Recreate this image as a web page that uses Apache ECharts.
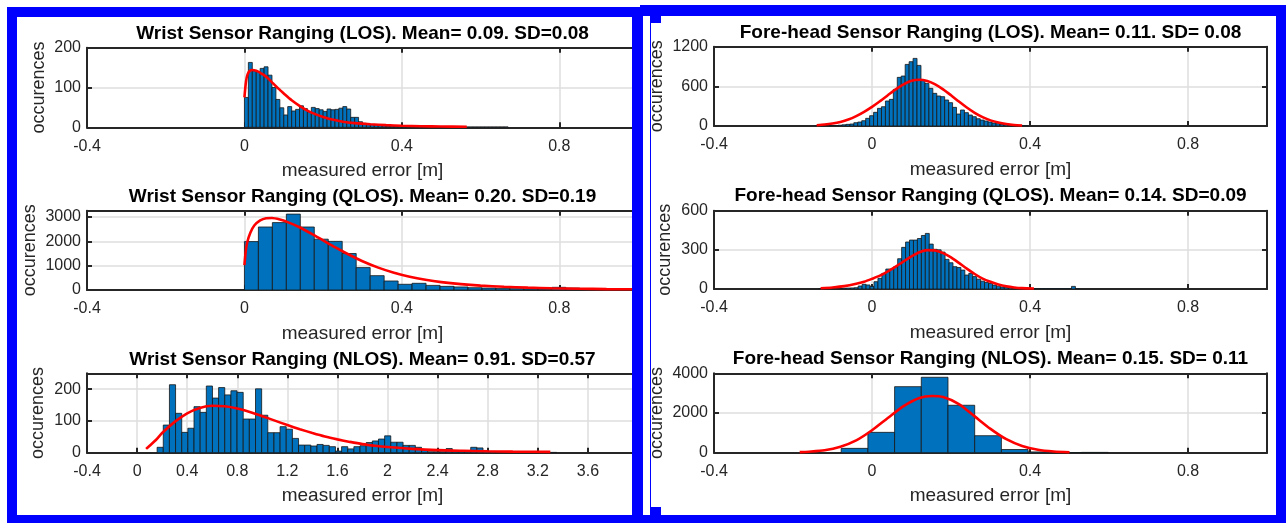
<!DOCTYPE html>
<html><head><meta charset="utf-8">
<script src="https://cdn.jsdelivr.net/npm/echarts@6/dist/echarts.min.js"></script>
<style>html,body{margin:0;padding:0;background:#fff}#c{width:1286px;height:523px}</style>
</head><body><div id="c"></div>
<script>
// ---------------- DATA ----------------
const titles = [
  'Wrist Sensor Ranging (LOS). Mean= 0.09. SD=0.08',
  'Wrist Sensor Ranging (QLOS). Mean= 0.20. SD=0.19',
  'Wrist Sensor Ranging (NLOS). Mean= 0.91. SD=0.57',
  'Fore-head Sensor Ranging (LOS). Mean= 0.11. SD= 0.08',
  'Fore-head Sensor Ranging (QLOS). Mean= 0.14. SD=0.09',
  'Fore-head Sensor Ranging (NLOS). Mean= 0.15. SD= 0.11'
];
const xLabelText = 'measured error [m]';
const yLabelText = 'occurences';

const xTicksShort = [-0.4, 0, 0.4, 0.8];
const xTicksLong = [-0.4, 0, 0.4, 0.8, 1.2, 1.6, 2, 2.4, 2.8, 3.2, 3.6];
const yTicksWristLos = [0, 100, 200];
const yTicksWristQlos = [0, 1000, 2000, 3000];
const yTicksWristNlos = [0, 100, 200];
const yTicksHeadLos = [0, 600, 1200];
const yTicksHeadQlos = [0, 300, 600];
const yTicksHeadNlos = [0, 2000, 4000];

// Wrist LOS histogram
const wristLosBinStart = 0, wristLosBinWidth = 0.01;
const wristLosCounts = [75,163,142,140,148,152,131,100,70,49,31,52,41,45,54,47,39,50,47,44,40,46,44,45,48,52,46,25,25,14,10,8,7,6,5,4,3,3,2,2,2,1,1,1,1,1,1,1,1,1,1,1,1,1,1,1,1,1,1,1,1,1,1,1,1,1,1];
const wristLosFitX = [0,0.004,0.008,0.014,0.02,0.03,0.04,0.05,0.06,0.07,0.08,0.09,0.10,0.12,0.14,0.16,0.18,0.20,0.22,0.25,0.28,0.32,0.36,0.40,0.45,0.50,0.565];
const wristLosFitY = [75,115,133,142,144,142,137,131,123,113,103,94,85,68,54,42,33,26,20,14,10.5,7.5,5.5,4,2.8,2,1.4];

// Wrist QLOS histogram
const wristQlosBinStart = 0, wristQlosBinWidth = 0.0355;
const wristQlosCounts = [1990,2590,2770,3120,2590,2090,2000,1500,920,590,370,235,275,190,150,125,95,80,65,55,45,40,110,80,40,30,20,15,10];
const wristQlosFitX = [0,0.003,0.007,0.015,0.025,0.04,0.055,0.07,0.09,0.11,0.14,0.17,0.20,0.23,0.26,0.30,0.34,0.38,0.42,0.46,0.50,0.55,0.60,0.66,0.72,0.78,0.85,0.92,1.0];
const wristQlosFitY = [1020,1550,1950,2350,2650,2860,2950,2960,2900,2790,2580,2320,2040,1760,1500,1180,920,710,545,420,325,240,180,132,98,72,52,38,28];

// Wrist NLOS histogram
const wristNlosBinStart = 0.16, wristNlosBinWidth = 0.0491;
const wristNlosCounts = [17,87,214,124,64,77,145,127,210,172,205,182,195,190,106,106,201,118,63,63,82,74,45,24,24,21,26,23,19,5,19,12,19,22,32,37,43,53,33,33,23,23,17,8,3,3,3,13,4,4,5,17,15,5,4,2,2,1,1,2,1,1,1,1,1];
const wristNlosFitX = [0.072,0.1,0.15,0.2,0.3,0.4,0.5,0.6,0.7,0.8,0.9,1.0,1.1,1.2,1.3,1.4,1.5,1.6,1.7,1.8,1.9,2.0,2.2,2.4,2.6,2.8,3.0,3.3];
const wristNlosFitY = [12,22,40,62,97,124,141,148,146,139,128,115,101,87,74,62,51,42,34,27,22,18,12,8,6,4.5,3.5,2.5];

// Fore-head LOS histogram
const headLosBinStart = -0.146, headLosBinWidth = 0.01;
const headLosCounts = [2,2,3,4,6,8,12,18,25,30,50,60,80,116,156,207,267,292,378,403,554,736,756,932,973,1023,917,696,645,570,494,454,444,393,353,282,181,242,202,166,141,110,90,75,60,45,35,25,18,12,8,5,3,2];
const headLosFitX = [-0.14,-0.12,-0.10,-0.08,-0.06,-0.04,-0.02,0,0.02,0.04,0.06,0.08,0.10,0.12,0.14,0.16,0.18,0.20,0.22,0.24,0.26,0.28,0.30,0.32,0.34,0.36,0.38];
const headLosFitY = [12,22,38,62,98,150,215,290,375,465,555,630,685,700,680,630,555,465,370,280,200,135,85,52,30,16,8];

// Fore-head QLOS histogram
const headQlosBinStart = -0.135, headQlosBinWidth = 0.01;
const headQlosCounts = [2,3,3,4,5,5,6,7,8,10,23,36,31,20,56,82,120,153,153,171,232,319,360,375,375,387,410,426,344,304,300,283,227,201,171,165,145,107,120,95,75,60,50,42,30,22,15,12,9,7,5,4,3,2,2,1,1,1,1,1,1,1,1,1,20,1];
const headQlosFitX = [-0.13,-0.10,-0.07,-0.04,-0.02,0,0.02,0.04,0.06,0.08,0.10,0.12,0.14,0.16,0.18,0.20,0.22,0.24,0.26,0.28,0.30,0.32,0.34,0.36,0.38,0.41];
const headQlosFitY = [6,12,22,40,56,78,102,135,172,212,250,282,298,295,275,242,200,156,115,80,55,35,21,12,7,4];

// Fore-head NLOS histogram
const headNlosBinStart = -0.078, headNlosBinWidth = 0.0676;
const headNlosCounts = [218,1025,3327,3800,2390,857,160,40,10,15];
const headNlosFitX = [-0.183,-0.16,-0.12,-0.08,-0.04,0,0.04,0.08,0.12,0.152,0.18,0.22,0.26,0.30,0.34,0.38,0.42,0.46,0.50];
const headNlosFitY = [28,50,120,300,620,1130,1750,2350,2760,2856,2800,2450,1830,1200,680,340,150,60,20];

// ---------------- LAYOUT ----------------
const FONT = '"Liberation Sans", Arial, Helvetica, sans-serif';
const panels = [
  {left:87, top:47.7, width:551, height:79.6, titleY:33.8, yGap:38.5, xmin:-0.4, xmax:1.0, ymax:200, yint:100, xt:xTicksShort, yt:yTicksWristLos,
   start:wristLosBinStart, w:wristLosBinWidth, counts:wristLosCounts, fx:wristLosFitX, fy:wristLosFitY},
  {left:87, top:210.7, width:551, height:79.3, titleY:196.7, yGap:48, xmin:-0.4, xmax:1.0, ymax:3260, yint:1000, xt:xTicksShort, yt:yTicksWristQlos,
   start:wristQlosBinStart, w:wristQlosBinWidth, counts:wristQlosCounts, fx:wristQlosFitX, fy:wristQlosFitY},
  {left:87, top:373.3, width:551, height:79.4, titleY:359.3, yGap:39.5, xmin:-0.4, xmax:4.0, ymax:250, yint:100, xt:xTicksLong, yt:yTicksWristNlos,
   start:wristNlosBinStart, w:wristNlosBinWidth, counts:wristNlosCounts, fx:wristNlosFitX, fy:wristNlosFitY},
  {left:714, top:46.7, width:553, height:79.3, titleY:32.7, yGap:48, xmin:-0.4, xmax:1.0, ymax:1200, yint:600, xt:xTicksShort, yt:yTicksHeadLos,
   start:headLosBinStart, w:headLosBinWidth, counts:headLosCounts, fx:headLosFitX, fy:headLosFitY},
  {left:714, top:210.7, width:553, height:78.3, titleY:196, yGap:39.5, xmin:-0.4, xmax:1.0, ymax:600, yint:300, xt:xTicksShort, yt:yTicksHeadQlos,
   start:headQlosBinStart, w:headQlosBinWidth, counts:headQlosCounts, fx:headQlosFitX, fy:headQlosFitY},
  {left:714, top:373.3, width:553, height:79.4, titleY:359, yGap:48, xmin:-0.4, xmax:1.0, ymax:4000, yint:2000, xt:xTicksShort, yt:yTicksHeadNlos,
   start:headNlosBinStart, w:headNlosBinWidth, counts:headNlosCounts, fx:headNlosFitX, fy:headNlosFitY}
];

function tickFmt(list) {
  return function (v) {
    for (const t of list) if (Math.abs(v - t) < 1e-6) return String(t);
    return '';
  };
}
function histRender(params, api) {
  const x0 = api.value(0), x1 = api.value(1), c = api.value(2);
  const p0 = api.coord([x0, c]);
  const p1 = api.coord([x1, 0]);
  return {type:'rect', shape:{x:p0[0], y:p0[1], width:p1[0]-p0[0], height:p1[1]-p0[1]},
          style:{fill:'#0072BD', stroke:'#161616', lineWidth:0.8}};
}

const grid = [], xAxis = [], yAxis = [], series = [], title = [];
const AX = '#262626';
panels.forEach((P, i) => {
  grid.push({left:P.left, top:P.top, width:P.width, height:P.height, show:false, containLabel:false});
  const cx = P.left + P.width / 2;
  title.push({text:titles[i], left:cx, top:P.titleY - 11, textAlign:'center', padding:0,
    textStyle:{fontSize:19, fontWeight:'bold', color:'#000', fontFamily:FONT, lineHeight:22}});
  xAxis.push({gridIndex:i, type:'value', min:P.xmin, max:P.xmax, interval:0.4, position:'bottom',
    axisLine:{show:true, onZero:false, lineStyle:{color:AX, width:2}},
    axisTick:{show:true, inside:true, length:5, lineStyle:{color:AX, width:2}},
    axisLabel:{show:true, margin:11, fontSize:16, color:AX, fontFamily:FONT, formatter:tickFmt(P.xt)},
    splitLine:{show:true, lineStyle:{color:'#dedede', width:1.5}},
    name:xLabelText, nameLocation:'middle', nameGap:34,
    nameTextStyle:{fontSize:19, color:AX, fontFamily:FONT}});
  xAxis.push({gridIndex:i, type:'value', min:P.xmin, max:P.xmax, interval:0.4, position:'top',
    axisLine:{show:true, onZero:false, lineStyle:{color:AX, width:2}},
    axisTick:{show:true, inside:true, length:5, lineStyle:{color:AX, width:2}},
    axisLabel:{show:false}, splitLine:{show:false}});
  yAxis.push({gridIndex:i, type:'value', min:0, max:P.ymax, interval:P.yint, position:'left',
    axisLine:{show:true, onZero:false, lineStyle:{color:AX, width:2}},
    axisTick:{show:true, inside:true, length:5, lineStyle:{color:AX, width:2}},
    axisLabel:{show:true, margin:6, fontSize:16, color:AX, fontFamily:FONT, formatter:tickFmt(P.yt)},
    splitLine:{show:true, lineStyle:{color:'#dedede', width:1.5}},
    name:yLabelText, nameLocation:'middle', nameGap:P.yGap, nameRotate:90,
    nameTextStyle:{fontSize:18, color:AX, fontFamily:FONT}});
  yAxis.push({gridIndex:i, type:'value', min:0, max:P.ymax, interval:P.yint, position:'right',
    axisLine:{show:true, onZero:false, lineStyle:{color:AX, width:2}},
    axisTick:{show:true, inside:true, length:5, lineStyle:{color:AX, width:2}},
    axisLabel:{show:false}, splitLine:{show:false}});

  const hist = P.counts.map((c, k) => [P.start + k * P.w, P.start + (k + 1) * P.w, c]);
  series.push({type:'custom', xAxisIndex:2*i, yAxisIndex:2*i, renderItem:histRender, data:hist, clip:true, z:2,
    encode:{x:[0,1], y:2}, silent:true});
  series.push({type:'line', xAxisIndex:2*i, yAxisIndex:2*i, data:P.fx.map((x, k) => [x, P.fy[k]]),
    symbol:'none', showSymbol:false, smooth:0.25, clip:true, z:3, silent:true,
    lineStyle:{color:'#ff0000', width:2.6}});
});

// blue frame (decoration)
const BLUE = '#0000ff';
function band(x, y, w, h) { return {type:'rect', z:100, silent:true, shape:{x, y, width:w, height:h}, style:{fill:BLUE}}; }
const graphic = [
  band(7, 7, 636, 10), band(7, 7, 10, 516), band(632, 7, 11, 516), band(7, 515, 636, 8),
  band(640, 5, 646, 11), band(640, 5, 3, 518), band(650, 16, 1, 499),
  band(650, 16, 11, 7), band(650, 507, 11, 8), band(1276, 5, 10, 518), band(640, 515, 646, 8)
];

const chart = echarts.init(document.getElementById('c'), null, {renderer:'canvas'});
chart.setOption({animation:false, backgroundColor:'#ffffff', title, grid, xAxis, yAxis, series, graphic});
</script>
</body></html>
